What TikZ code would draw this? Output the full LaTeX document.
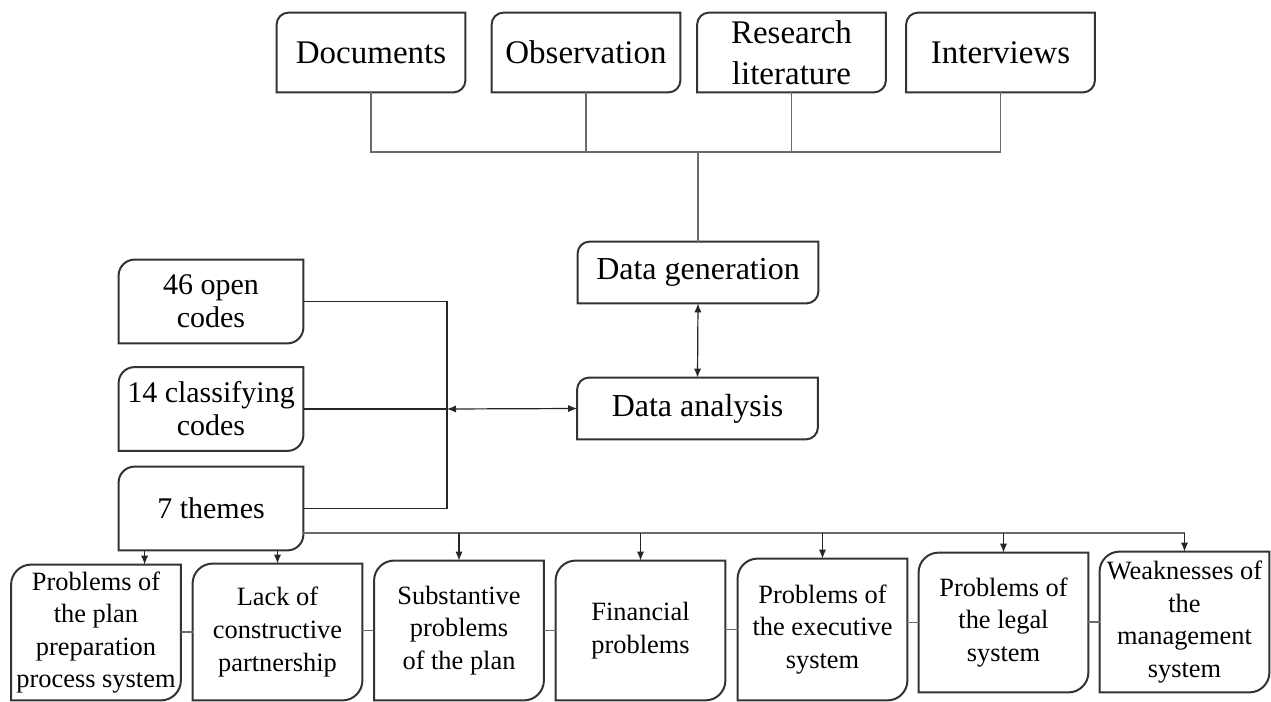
\documentclass[tikz,border=0pt]{standalone}
\usepackage{fontspec}
\setmainfont{Liberation Serif}
\usetikzlibrary{arrows.meta}

\definecolor{boxcol}{HTML}{333333}
\definecolor{linkcol}{HTML}{6A6A6A}

% box with rounded top-left and bottom-right corners
\newcommand{\cornerbox}[2]{%
  \draw[boxline] (#1.south west) -- ([yshift=-#2]#1.north west)
    arc[start angle=180, end angle=90, radius=#2] -- (#1.north east)
    -- ([yshift=#2]#1.south east)
    arc[start angle=0, end angle=-90, radius=#2] -- cycle;}

\begin{document}
\begin{tikzpicture}[x=0.5pt, y=-0.5pt,
    box/.style={inner sep=0pt, align=center},
    topbox/.style={box, minimum width=94pt, minimum height=39.5pt,
      font=\fontsize{16.5}{20.5}\selectfont},
    midbox/.style={box, minimum width=120pt, minimum height=30.5pt,
      font=\fontsize{16}{19}\selectfont},
    codebox/.style={box, minimum width=92pt, minimum height=41.5pt,
      font=\fontsize{15}{16.5}\selectfont},
    themebox/.style={box, minimum width=84.5pt,
      font=\fontsize{13.2}{16.3}\selectfont},
    boxline/.style={draw=boxcol, line width=1pt},
    link/.style={draw=linkcol, line width=0.6pt},
    plain/.style={draw=black!85, line width=0.6pt},
    arr/.style={plain, -{Latex[length=4.5pt, width=3.6pt]}},
    dblarr/.style={plain, {Latex[length=4.5pt, width=3.6pt]}-{Latex[length=4.5pt, width=3.6pt]}}]

    \useasboundingbox (0,0) rectangle (1271,702);

    % sources
    \node[topbox] (doc)  at (371,52.5)    {Documents};
    \node[topbox] (obs)  at (586,52.5)    {Observation};
    \node[topbox] (res)  at (791.5,52.5)  {Research\\literature};
    \node[topbox] (intv) at (1000.5,52.5) {Interviews};

    \node[midbox] (gen) at (698,272.5) {Data generation};
    \node[midbox] (ana) at (697.5,408.5) {Data analysis};

    % coding
    \node[codebox] (open) at (211,301.5) {46 open\\codes};
    \node[codebox] (cls)  at (211,409)   {14 classifying\\codes};
    \node[codebox] (thm)  at (211,508.5) {7 themes};

    % themes
    \node[themebox, minimum height=67.5pt] (p1) at (96,632.5)
        {Problems of\\the plan\\preparation\\process system};
    \node[themebox, minimum height=68pt] (p2) at (277.5,632)
        {Lack of\\constructive\\partnership};
    \node[themebox, minimum height=69.5pt] (p3) at (459,630.5)
        {Substantive\\problems\\of the plan};
    \node[themebox, minimum height=69.5pt] (p4) at (640.5,630.5)
        {Financial\\problems};
    \node[themebox, minimum height=70.5pt] (p5) at (822.5,629.5)
        {Problems of\\the executive\\system};
    \node[themebox, minimum height=69.5pt] (p6) at (1003.5,622.5)
        {Problems of\\the legal\\system};
    \node[themebox, minimum height=70pt] (p7) at (1184.5,622)
        {Weaknesses of\\the\\management\\system};

    \foreach \n in {doc,obs,res,intv,gen,ana} \cornerbox{\n}{6pt};
    \foreach \n in {open,cls,thm} \cornerbox{\n}{8pt};
    \foreach \i in {1,...,7} \cornerbox{p\i}{10pt};

    \coordinate (bus)  at (698,152);
    \coordinate (hub)  at (447,409);
    \coordinate (tbus) at (0,533);
    \coordinate (t1)   at ([xshift=13pt]thm.south west);

    \draw[link] (doc.south) |- (bus) -| (intv.south);
    \draw[link] (obs.south) -- (obs.south |- bus);
    \draw[link] (res.south) -- (res.south |- bus);
    \draw[link] (bus) -- (gen.north);
    \draw[dblarr] (gen.south) -- (ana.north);

    \draw[plain] (open.east) -| (hub) |- (thm.east);
    \draw[plain] (cls.east) -- (hub);
    \draw[dblarr] (hub) -- (ana.west);

    \draw[link] (thm.east |- tbus) -- (p7.north |- tbus);
    \foreach \i in {3,...,7} \draw[arr] (p\i.north |- tbus) -- (p\i.north);
    \draw[arr] (t1) -- (t1 |- p1.north);
    \draw[arr] (p2.north |- thm.south) -- (p2.north);

    \foreach \a/\b in {p1/p2,p2/p3,p3/p4,p4/p5,p5/p6,p6/p7}
        \draw[link] (\a.east |- \b.west) -- (\b.west);

\end{tikzpicture}
\end{document}
